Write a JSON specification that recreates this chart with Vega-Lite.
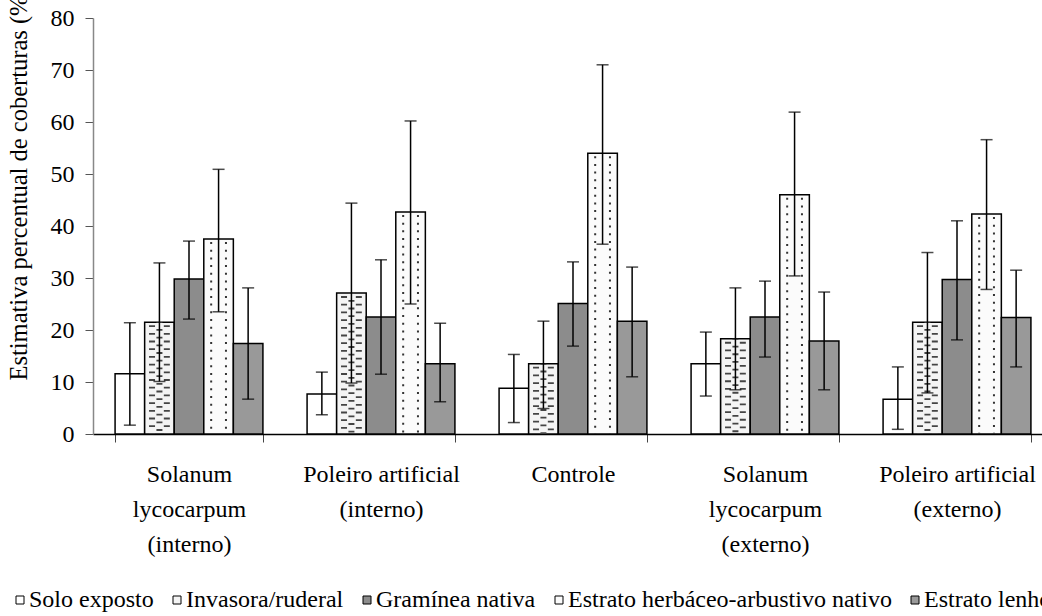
{
  "$schema": "https://vega.github.io/schema/vega-lite/v6.json",
  "autosize": {"type": "none"},
  "width": 960,
  "height": 416,
  "padding": {"left": 93, "top": 18, "right": 0, "bottom": 182},
  "background": "white",
  "config": {
    "font": "Liberation Serif, Times New Roman, serif",
    "view": {"stroke": null},
    "axis": {"labelFont": "Liberation Serif, Times New Roman, serif", "titleFont": "Liberation Serif, Times New Roman, serif", "labelColor": "black", "titleColor": "black"},
    "legend": {"labelFont": "Liberation Serif, Times New Roman, serif", "labelColor": "black"}
  },
  "data": {
    "values": [
      {"grupo": "Solanum|lycocarpum|(interno)", "cobertura": "Solo exposto", "media": 11.6, "inf": 1.7, "sup": 21.4},
      {"grupo": "Solanum|lycocarpum|(interno)", "cobertura": "Invasora/ruderal", "media": 21.5, "inf": 10.1, "sup": 32.9},
      {"grupo": "Solanum|lycocarpum|(interno)", "cobertura": "Gramínea nativa", "media": 29.8, "inf": 22.1, "sup": 37.1},
      {"grupo": "Solanum|lycocarpum|(interno)", "cobertura": "Estrato herbáceo-arbustivo nativo", "media": 37.5, "inf": 23.5, "sup": 50.9},
      {"grupo": "Solanum|lycocarpum|(interno)", "cobertura": "Estrato lenhoso", "media": 17.4, "inf": 6.7, "sup": 28.1},
      {"grupo": "Poleiro artificial|(interno)", "cobertura": "Solo exposto", "media": 7.7, "inf": 3.7, "sup": 11.9},
      {"grupo": "Poleiro artificial|(interno)", "cobertura": "Invasora/ruderal", "media": 27.1, "inf": 9.8, "sup": 44.4},
      {"grupo": "Poleiro artificial|(interno)", "cobertura": "Gramínea nativa", "media": 22.5, "inf": 11.5, "sup": 33.5},
      {"grupo": "Poleiro artificial|(interno)", "cobertura": "Estrato herbáceo-arbustivo nativo", "media": 42.7, "inf": 25.0, "sup": 60.2},
      {"grupo": "Poleiro artificial|(interno)", "cobertura": "Estrato lenhoso", "media": 13.5, "inf": 6.2, "sup": 21.3},
      {"grupo": "Controle", "cobertura": "Solo exposto", "media": 8.8, "inf": 2.2, "sup": 15.3},
      {"grupo": "Controle", "cobertura": "Invasora/ruderal", "media": 13.5, "inf": 4.9, "sup": 21.7},
      {"grupo": "Controle", "cobertura": "Gramínea nativa", "media": 25.1, "inf": 16.9, "sup": 33.1},
      {"grupo": "Controle", "cobertura": "Estrato herbáceo-arbustivo nativo", "media": 54.0, "inf": 36.5, "sup": 71.0},
      {"grupo": "Controle", "cobertura": "Estrato lenhoso", "media": 21.7, "inf": 11.0, "sup": 32.1},
      {"grupo": "Solanum|lycocarpum|(externo)", "cobertura": "Solo exposto", "media": 13.5, "inf": 7.3, "sup": 19.6},
      {"grupo": "Solanum|lycocarpum|(externo)", "cobertura": "Invasora/ruderal", "media": 18.3, "inf": 8.5, "sup": 28.1},
      {"grupo": "Solanum|lycocarpum|(externo)", "cobertura": "Gramínea nativa", "media": 22.5, "inf": 14.8, "sup": 29.4},
      {"grupo": "Solanum|lycocarpum|(externo)", "cobertura": "Estrato herbáceo-arbustivo nativo", "media": 46.0, "inf": 30.4, "sup": 61.9},
      {"grupo": "Solanum|lycocarpum|(externo)", "cobertura": "Estrato lenhoso", "media": 17.9, "inf": 8.5, "sup": 27.3},
      {"grupo": "Poleiro artificial|(externo)", "cobertura": "Solo exposto", "media": 6.7, "inf": 0.9, "sup": 12.9},
      {"grupo": "Poleiro artificial|(externo)", "cobertura": "Invasora/ruderal", "media": 21.5, "inf": 7.9, "sup": 34.9},
      {"grupo": "Poleiro artificial|(externo)", "cobertura": "Gramínea nativa", "media": 29.7, "inf": 18.1, "sup": 41.0},
      {"grupo": "Poleiro artificial|(externo)", "cobertura": "Estrato herbáceo-arbustivo nativo", "media": 42.3, "inf": 27.8, "sup": 56.6},
      {"grupo": "Poleiro artificial|(externo)", "cobertura": "Estrato lenhoso", "media": 22.4, "inf": 12.9, "sup": 31.5}
    ]
  },
  "resolve": {"scale": {"xOffset": "independent"}},
  "encoding": {
    "x": {
      "field": "grupo", "type": "nominal", "sort": null,
      "scale": {"paddingInner": 0.23, "paddingOuter": 0.115},
      "axis": {
        "title": null, "labelAngle": 0, "tickBand": "extent",
        "labelExpr": "split(datum.label, '|')",
        "labelLineHeight": 35, "labelBaseline": "top", "labelPadding": 20,
        "labelFontSize": 24, "labelLimit": 0, "labelOverlap": false,
        "tickSize": 8, "tickColor": "#444", "domainColor": "black", "domainWidth": 1.5
      }
    }
  },
  "layer": [
    {
      "mark": {"type": "bar", "stroke": "black", "strokeWidth": 1.5},
      "encoding": {
        "xOffset": {"field": "cobertura", "type": "nominal", "sort": null, "scale": {"paddingInner": 0, "paddingOuter": 0}},
        "y": {
          "field": "media", "type": "quantitative",
          "scale": {"domain": [0, 80]},
          "axis": {
            "values": [0, 10, 20, 30, 40, 50, 60, 70, 80], "grid": false,
            "tickSize": 8, "labelPadding": 11, "labelFontSize": 24,
            "domainColor": "#888", "domainWidth": 1.5, "tickColor": "#555",
            "title": "Estimativa percentual de coberturas (%)",
            "titleFontSize": 24.5, "titleFontWeight": "normal",
            "titleX": -67, "titleY": 362, "titleAlign": "left",
            "titleAngle": -90, "titleBaseline": "alphabetic"
          }
        },
        "fill": {
          "field": "cobertura", "type": "nominal",
          "scale": {
            "domain": ["Solo exposto", "Invasora/ruderal", "Gramínea nativa", "Estrato herbáceo-arbustivo nativo", "Estrato lenhoso"],
            "range": ["#ffffff", "#f4f4f4", "#8c8c8c", "#fbfbfb", "#999999"]
          },
          "legend": {
            "orient": "none", "legendX": -85, "legendY": 570,
            "direction": "horizontal", "columns": 5, "title": null,
            "symbolType": "square", "symbolSize": 64,
            "symbolStrokeColor": "black", "symbolStrokeWidth": 1,
            "labelFontSize": 24, "labelLimit": 0, "labelOffset": -3,
            "columnPadding": 11, "padding": 0, "offset": 0
          }
        }
      }
    },
    {
      "transform": [{"filter": "datum.cobertura === 'Estrato herbáceo-arbustivo nativo'"}],
      "mark": {"type": "rule", "strokeWidth": 2, "strokeDash": [2, 5.7], "strokeDashOffset": -3, "color": "#333"},
      "encoding": {
        "xOffset": {"field": "cobertura", "type": "nominal", "scale": {"domain": ["Solo exposto", "Invasora/ruderal", "Gramínea nativa", "Estrato herbáceo-arbustivo nativo", "Estrato lenhoso"], "range": [-7.4, 140.44], "paddingInner": 0, "paddingOuter": 0}},
        "y": {"field": "media", "type": "quantitative"}, "y2": {"datum": 0}
      }
    },
    {
      "transform": [{"filter": "datum.cobertura === 'Estrato herbáceo-arbustivo nativo'"}],
      "mark": {"type": "rule", "strokeWidth": 2, "strokeDash": [2, 5.7], "strokeDashOffset": -3, "color": "#333"},
      "encoding": {
        "xOffset": {"field": "cobertura", "type": "nominal", "scale": {"domain": ["Solo exposto", "Invasora/ruderal", "Gramínea nativa", "Estrato herbáceo-arbustivo nativo", "Estrato lenhoso"], "range": [7.4, 155.24], "paddingInner": 0, "paddingOuter": 0}},
        "y": {"field": "media", "type": "quantitative"}, "y2": {"datum": 0}
      }
    },
    {
      "transform": [{"filter": "datum.cobertura === 'Invasora/ruderal'"}],
      "mark": {"type": "rule", "strokeWidth": 6, "strokeDash": [1.8, 5.9], "strokeDashOffset": -3, "color": "#444"},
      "encoding": {
        "xOffset": {"field": "cobertura", "type": "nominal", "scale": {"domain": ["Solo exposto", "Invasora/ruderal", "Gramínea nativa", "Estrato herbáceo-arbustivo nativo", "Estrato lenhoso"], "range": [-7.4, 140.44], "paddingInner": 0, "paddingOuter": 0}},
        "y": {"field": "media", "type": "quantitative"}, "y2": {"datum": 0}
      }
    },
    {
      "transform": [{"filter": "datum.cobertura === 'Invasora/ruderal'"}],
      "mark": {"type": "rule", "strokeWidth": 6, "strokeDash": [1.8, 5.9], "strokeDashOffset": -3, "color": "#444"},
      "encoding": {
        "xOffset": {"field": "cobertura", "type": "nominal", "scale": {"domain": ["Solo exposto", "Invasora/ruderal", "Gramínea nativa", "Estrato herbáceo-arbustivo nativo", "Estrato lenhoso"], "range": [7.4, 155.24], "paddingInner": 0, "paddingOuter": 0}},
        "y": {"field": "media", "type": "quantitative"}, "y2": {"datum": 0}
      }
    },
    {
      "transform": [{"filter": "datum.cobertura === 'Invasora/ruderal'"}],
      "mark": {"type": "rule", "strokeWidth": 6, "strokeDash": [1.8, 5.9], "strokeDashOffset": -6.8, "color": "#444"},
      "encoding": {
        "xOffset": {"field": "cobertura", "type": "nominal", "scale": {"domain": ["Solo exposto", "Invasora/ruderal", "Gramínea nativa", "Estrato herbáceo-arbustivo nativo", "Estrato lenhoso"], "paddingInner": 0, "paddingOuter": 0}},
        "y": {"field": "media", "type": "quantitative"}, "y2": {"datum": 0}
      }
    },
    {
      "mark": {"type": "rule", "color": "black", "strokeWidth": 1.5},
      "encoding": {
        "xOffset": {"field": "cobertura", "type": "nominal", "sort": null, "scale": {"paddingInner": 0, "paddingOuter": 0}},
        "y": {"field": "inf", "type": "quantitative"}, "y2": {"field": "sup"}
      }
    },
    {
      "mark": {"type": "tick", "color": "black", "size": 12, "thickness": 1.5},
      "encoding": {
        "xOffset": {"field": "cobertura", "type": "nominal", "sort": null, "scale": {"paddingInner": 0, "paddingOuter": 0}},
        "y": {"field": "inf", "type": "quantitative"}
      }
    },
    {
      "mark": {"type": "tick", "color": "black", "size": 12, "thickness": 1.5},
      "encoding": {
        "xOffset": {"field": "cobertura", "type": "nominal", "sort": null, "scale": {"paddingInner": 0, "paddingOuter": 0}},
        "y": {"field": "sup", "type": "quantitative"}
      }
    }
  ]
}
